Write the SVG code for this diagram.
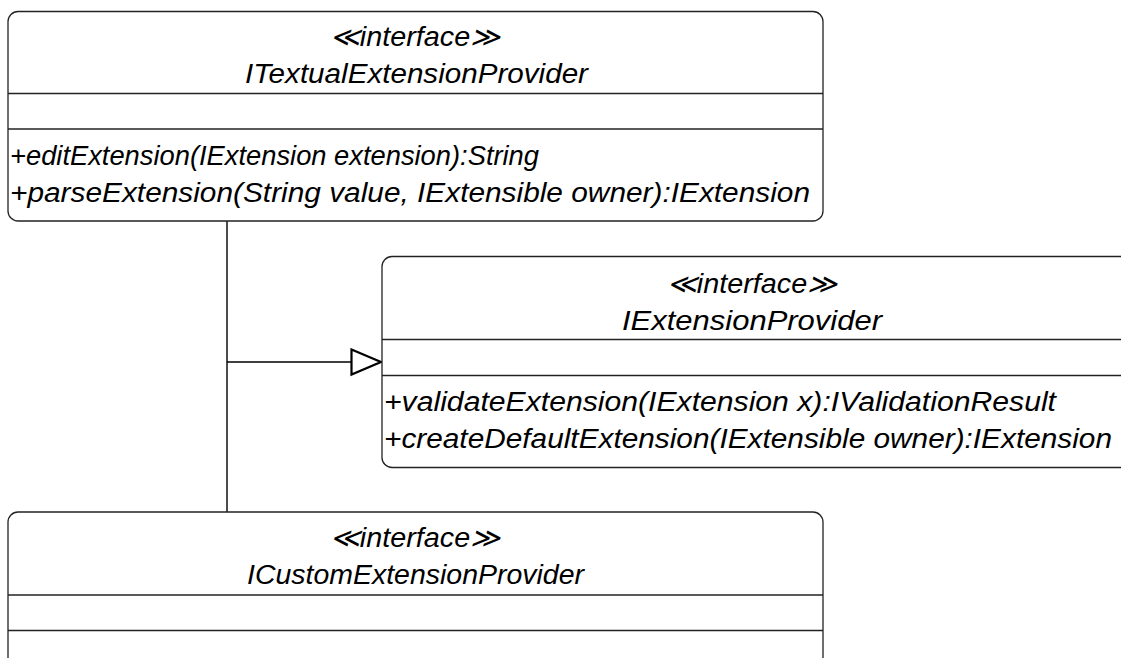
<svg xmlns="http://www.w3.org/2000/svg" width="1121" height="658" viewBox="0 0 1121 658">
<defs>
<style>
.box{fill:#fff;stroke:#222;stroke-width:1.3}
.div{stroke:#222;stroke-width:1.3}
.t{font-family:"Liberation Sans",Arial,sans-serif;font-style:italic;font-size:27px;fill:#000}
.conn{fill:none;stroke:#000;stroke-width:1.4}
</style>
<marker id="gen" markerWidth="34" markerHeight="30" refX="31" refY="14" orient="auto" markerUnits="userSpaceOnUse">
<path d="M1.5,1.5 L31,14 L1.5,26.5 Z" fill="#fff" stroke="#000" stroke-width="2.2"/>
</marker>
</defs>
<rect width="1121" height="658" fill="#fff"/>
<g id="connectors">
<line class="conn" x1="227" y1="221" x2="227" y2="512"/>
<line class="conn" x1="227" y1="362" x2="381" y2="362" marker-end="url(#gen)"/>
</g>
<g id="ITextualExtensionProvider">
<rect class="box" x="8" y="11.5" width="815" height="209.5" rx="10"/>
<line class="div" x1="8" y1="93.5" x2="823" y2="93.5"/>
<line class="div" x1="8" y1="129" x2="823" y2="129"/>
<text class="t" x="330" y="46" textLength="170" lengthAdjust="spacingAndGlyphs">≪interface≫</text>
<text class="t" x="245" y="83" textLength="343" lengthAdjust="spacingAndGlyphs">ITextualExtensionProvider</text>
<text class="t" x="10" y="165" textLength="529" lengthAdjust="spacingAndGlyphs">+editExtension(IExtension extension):String</text>
<text class="t" x="10" y="202" textLength="800" lengthAdjust="spacingAndGlyphs">+parseExtension(String value, IExtensible owner):IExtension</text>
</g>
<g id="IExtensionProvider">
<rect class="box" x="382" y="256.5" width="760" height="211" rx="10"/>
<line class="div" x1="382" y1="339.5" x2="1121" y2="339.5"/>
<line class="div" x1="382" y1="375.5" x2="1121" y2="375.5"/>
<text class="t" x="667" y="293" textLength="170" lengthAdjust="spacingAndGlyphs">≪interface≫</text>
<text class="t" x="622" y="330" textLength="260" lengthAdjust="spacingAndGlyphs">IExtensionProvider</text>
<text class="t" x="384" y="411" textLength="672" lengthAdjust="spacingAndGlyphs">+validateExtension(IExtension x):IValidationResult</text>
<text class="t" x="384" y="448" textLength="728" lengthAdjust="spacingAndGlyphs">+createDefaultExtension(IExtensible owner):IExtension</text>
</g>
<g id="ICustomExtensionProvider">
<rect class="box" x="8" y="512" width="815" height="200" rx="10"/>
<line class="div" x1="8" y1="595" x2="823" y2="595"/>
<line class="div" x1="8" y1="630.5" x2="823" y2="630.5"/>
<text class="t" x="330" y="547" textLength="170" lengthAdjust="spacingAndGlyphs">≪interface≫</text>
<text class="t" x="247" y="584" textLength="337" lengthAdjust="spacingAndGlyphs">ICustomExtensionProvider</text>
</g>
</svg>
